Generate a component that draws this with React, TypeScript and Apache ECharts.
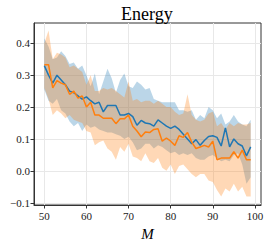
import React, { useEffect, useRef } from "react";
import * as echarts from "echarts";

const M = Array.from({ length: 50 }, (_, i) => 50 + i);

const blueMean = [
  0.33, 0.30, 0.275, 0.30, 0.285, 0.27, 0.25, 0.245, 0.235, 0.225,
  0.232, 0.22, 0.21, 0.215, 0.185, 0.205, 0.205, 0.205, 0.175, 0.175,
  0.18, 0.17, 0.143, 0.158, 0.15, 0.148, 0.14, 0.16, 0.15, 0.14,
  0.133, 0.14, 0.13, 0.115, 0.10, 0.085, 0.098, 0.08, 0.095, 0.108,
  0.11, 0.105, 0.078, 0.135, 0.075, 0.10, 0.085, 0.078, 0.047, 0.075,
];
const blueUpper = [
  0.415, 0.39, 0.35, 0.355, 0.375, 0.36, 0.335, 0.34, 0.32, 0.33,
  0.30, 0.265, 0.305, 0.24, 0.28, 0.32, 0.29, 0.245, 0.285, 0.305,
  0.265, 0.26, 0.28, 0.27, 0.255, 0.26, 0.225, 0.22, 0.215, 0.215,
  0.215, 0.215, 0.19, 0.19, 0.185, 0.19, 0.16, 0.175, 0.165, 0.20,
  0.19, 0.165, 0.18, 0.145, 0.155, 0.175, 0.155, 0.145, 0.14, 0.16,
];
const blueLower = [
  0.255, 0.22, 0.21, 0.225, 0.19, 0.18, 0.155, 0.14, 0.15, 0.125,
  0.145, 0.135, 0.14, 0.13, 0.125, 0.12, 0.12, 0.115, 0.11, 0.10,
  0.107, 0.09, 0.065, 0.07, 0.085, 0.085, 0.07, 0.08, 0.075, 0.065,
  0.055, 0.06, 0.05, 0.055, 0.05, 0.055, 0.04, 0.035, 0.035, 0.045,
  0.05, 0.04, 0.03, 0.035, 0.03, 0.05, 0.055, 0.02, -0.04, -0.02,
];
const orangeMean = [
  0.333, 0.333, 0.26, 0.283, 0.275, 0.27, 0.24, 0.25, 0.228, 0.235,
  0.20, 0.215, 0.175, 0.175, 0.165, 0.165, 0.165, 0.148, 0.163, 0.163,
  0.175, 0.14, 0.125, 0.107, 0.122, 0.12, 0.13, 0.132, 0.093, 0.103,
  0.093, 0.08, 0.11, 0.105, 0.12, 0.09, 0.07, 0.075, 0.08, 0.075,
  0.093, 0.035, 0.04, 0.04, 0.04, 0.06, 0.04, 0.065, 0.035, 0.035,
];
const orangeUpper = [
  0.40, 0.44, 0.35, 0.37, 0.365, 0.355, 0.325, 0.33, 0.32, 0.31,
  0.27, 0.30, 0.25, 0.25, 0.26, 0.255, 0.26, 0.25, 0.24, 0.23,
  0.28, 0.22, 0.225, 0.215, 0.22, 0.22, 0.21, 0.22, 0.21, 0.20,
  0.20, 0.185, 0.175, 0.18, 0.24, 0.175, 0.16, 0.155, 0.16, 0.18,
  0.185, 0.14, 0.15, 0.13, 0.15, 0.14, 0.15, 0.145, 0.145, 0.15,
];
const orangeLower = [
  0.26, 0.225, 0.175, 0.19, 0.18, 0.165, 0.175, 0.16, 0.155, 0.15,
  0.125, 0.12, 0.08, 0.09, 0.095, 0.07, 0.06, 0.035, 0.075, 0.06,
  0.085, 0.045, 0.04, 0.03, 0.055, 0.03, 0.025, 0.04, 0.01, 0.0,
  0.02, -0.01, 0.015, 0.02, 0.005, -0.01, -0.02, -0.01, -0.01, -0.03,
  -0.035, -0.06, -0.08, -0.055, -0.065, -0.04, -0.065, -0.05, -0.08, -0.08,
];

const xTicks = [50, 60, 70, 80, 90, 100];
const yTicks = [-0.1, 0, 0.1, 0.2, 0.3, 0.4];

const BLUE = "#1f77b4";
const ORANGE = "#ff7f0e";
const FONT = "'Liberation Serif', 'DejaVu Serif', serif";

function band(name: string, lower: number[], upper: number[], fill: string) {
  return {
    name: name + "-band",
    type: "custom",
    silent: true,
    data: M.map((m, i) => [m, lower[i], upper[i]]),
    encode: { x: 0, y: [1, 2] },
    renderItem: (params: any, api: any) => {
      if (params.dataIndex !== 0) return null;
      const top = M.map((m, i) => api.coord([m, upper[i]]));
      const bottom = M.map((m, i) => api.coord([m, lower[i]])).reverse();
      return {
        type: "polygon",
        shape: { points: top.concat(bottom) },
        style: { fill, stroke: "none" },
      };
    },
  };
}

function meanLine(name: string, vals: number[], color: string) {
  return {
    name,
    type: "line",
    symbol: "none",
    lineStyle: { color, width: 1.5 },
    data: M.map((m, i) => [m, vals[i]]),
  };
}

export default function App() {
  const ref = useRef<HTMLDivElement>(null);
  useEffect(() => {
    if (!ref.current) return;
    const chart = echarts.init(ref.current, null, { renderer: "svg" });
    chart.setOption({
      animation: false,
      title: {
        text: "Energy",
        left: 116,
        top: 0,
        textStyle: { fontFamily: FONT, fontSize: 18, fontWeight: "normal", color: "#000" },
      },
      grid: {
        left: 34,
        right: 7,
        top: 23,
        bottom: 37,
        show: true,
        borderColor: "#333",
        borderWidth: 1,
        backgroundColor: "transparent",
      },
      xAxis: {
        type: "value",
        min: 47.55,
        max: 101.45,
        name: "M",
        nameLocation: "middle",
        nameGap: 21,
        nameTextStyle: { fontFamily: FONT, fontSize: 15, fontStyle: "italic", color: "#000" },
        axisLine: { show: true, onZero: false, lineStyle: { color: "#333", width: 1 } },
        axisTick: { show: true, length: 3.5, customValues: xTicks, lineStyle: { color: "#333" } },
        axisLabel: {
          customValues: xTicks,
          fontFamily: FONT,
          fontSize: 11,
          color: "#222",
          margin: 5,
        },
        splitLine: { show: true, lineStyle: { color: "#e8e8e8", width: 1 } },
      },
      yAxis: {
        type: "value",
        min: -0.107,
        max: 0.4635,
        axisLine: { show: true, lineStyle: { color: "#333", width: 1 } },
        axisTick: { show: true, length: 3.5, customValues: yTicks, lineStyle: { color: "#333" } },
        axisLabel: {
          customValues: yTicks,
          fontFamily: FONT,
          fontSize: 11,
          color: "#222",
          margin: 4,
          formatter: (v: number) => {
            const s = Math.abs(v).toFixed(1);
            return v < -1e-9 ? "\u2212" + s : s;
          },
        },
        splitLine: { show: true, lineStyle: { color: "#e8e8e8", width: 1 } },
      },
      series: [
        band("blue", blueLower, blueUpper, "rgba(31,119,180,0.3)"),
        meanLine("blueMean", blueMean, BLUE),
        band("orange", orangeLower, orangeUpper, "rgba(255,127,14,0.3)"),
        meanLine("orangeMean", orangeMean, ORANGE),
      ],
    });
    return () => chart.dispose();
  }, []);
  return <div ref={ref} style={{ width: 268, height: 246, position: "absolute", left: 0, top: 0 }} />;
}
